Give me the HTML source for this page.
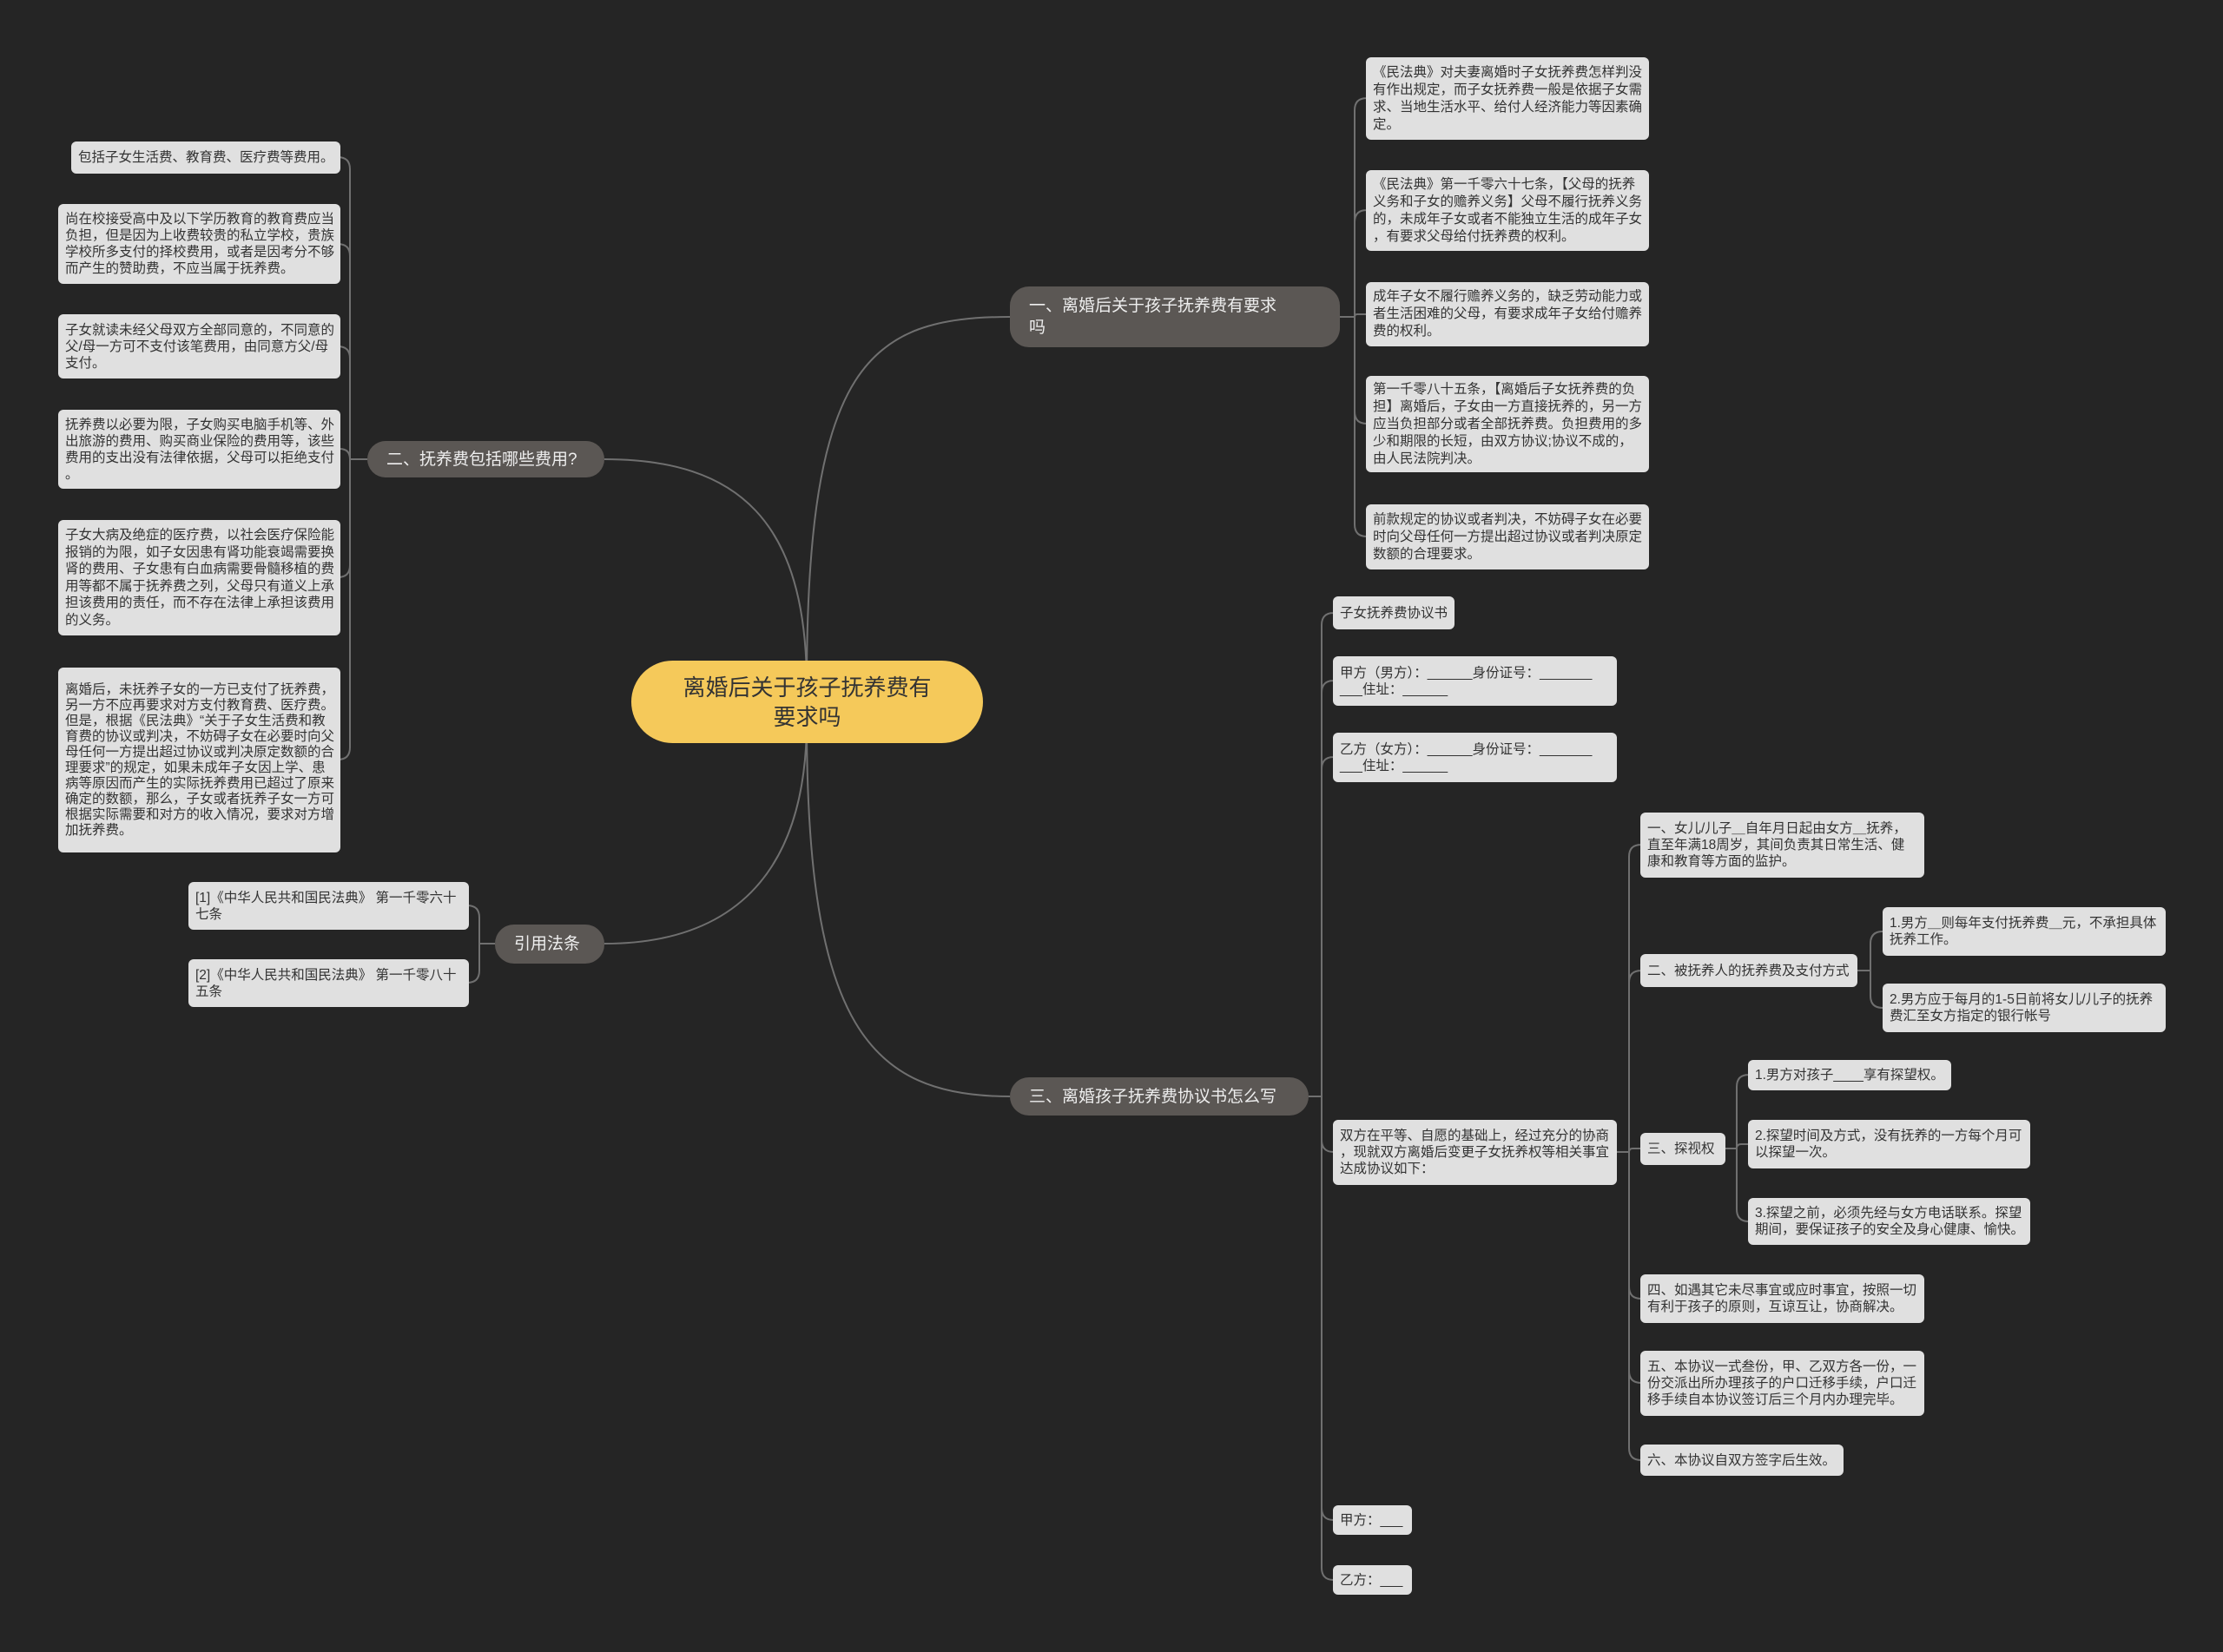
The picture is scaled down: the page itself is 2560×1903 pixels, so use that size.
<!DOCTYPE html>
<html><head><meta charset="utf-8"><style>
html,body{margin:0;padding:0;background:#252525;}
body{width:2560px;height:1903px;position:relative;overflow:hidden;font-family:"Liberation Sans","Noto Sans CJK SC",sans-serif;}
.b{position:absolute;background:#e0e0e0;color:#333;border-radius:6px;font-size:15.5px;line-height:19px;padding:0 8px;box-sizing:border-box;display:flex;align-items:center;white-space:nowrap;}
.n{position:absolute;background:#5b5754;color:#eee;border-radius:22px;font-size:19px;line-height:25px;box-sizing:border-box;display:flex;align-items:center;padding:0 22px;white-space:nowrap;}
.c{position:absolute;left:727px;top:761px;width:405px;height:95px;background:#f5c95a;border-radius:48px;color:#333;font-size:26px;line-height:34px;display:flex;align-items:center;justify-content:center;text-align:center;}
svg{position:absolute;left:0;top:0;}
</style></head><body>
<svg id="s" width="2560" height="1903"></svg>
<div class="c">离婚后关于孩子抚养费有<br>要求吗</div>
<div class="n" style="left:1163px;top:330px;width:380px;height:70px">一、离婚后关于孩子抚养费有要求<br>吗</div>
<div class="n" style="left:423px;top:508px;width:273px;height:42px">二、抚养费包括哪些费用?</div>
<div class="n" style="left:570px;top:1065px;width:126px;height:45px;padding:0 22px">引用法条</div>
<div class="n" style="left:1163px;top:1241px;width:344px;height:44px">三、离婚孩子抚养费协议书怎么写</div>

<div class="b" style="left:1573px;top:66px;width:326px;height:95px;line-height:20px">《民法典》对夫妻离婚时子女抚养费怎样判没<br>有作出规定，而子女抚养费一般是依据子女需<br>求、当地生活水平、给付人经济能力等因素确<br>定。</div>
<div class="b" style="left:1573px;top:196px;width:326px;height:93px;line-height:20px">《民法典》第一千零六十七条，【父母的抚养<br>义务和子女的赡养义务】父母不履行抚养义务<br>的，未成年子女或者不能独立生活的成年子女<br>，有要求父母给付抚养费的权利。</div>
<div class="b" style="left:1573px;top:325px;width:326px;height:74px;line-height:20px">成年子女不履行赡养义务的，缺乏劳动能力或<br>者生活困难的父母，有要求成年子女给付赡养<br>费的权利。</div>
<div class="b" style="left:1573px;top:433px;width:326px;height:111px;line-height:20px">第一千零八十五条，【离婚后子女抚养费的负<br>担】离婚后，子女由一方直接抚养的，另一方<br>应当负担部分或者全部抚养费。负担费用的多<br>少和期限的长短，由双方协议;协议不成的，<br>由人民法院判决。</div>
<div class="b" style="left:1573px;top:581px;width:326px;height:75px;line-height:20px">前款规定的协议或者判决，不妨碍子女在必要<br>时向父母任何一方提出超过协议或者判决原定<br>数额的合理要求。</div>

<div class="b" style="left:82px;top:163px;width:310px;height:37px">包括子女生活费、教育费、医疗费等费用。</div>
<div class="b" style="left:67px;top:235px;width:325px;height:92px;line-height:19px">尚在校接受高中及以下学历教育的教育费应当<br>负担，但是因为上收费较贵的私立学校，贵族<br>学校所多支付的择校费用，或者是因考分不够<br>而产生的赞助费，不应当属于抚养费。</div>
<div class="b" style="left:67px;top:362px;width:325px;height:74px">子女就读未经父母双方全部同意的，不同意的<br>父/母一方可不支付该笔费用，由同意方父/母<br>支付。</div>
<div class="b" style="left:67px;top:472px;width:325px;height:91px">抚养费以必要为限，子女购买电脑手机等、外<br>出旅游的费用、购买商业保险的费用等，该些<br>费用的支出没有法律依据，父母可以拒绝支付<br>。</div>
<div class="b" style="left:67px;top:599px;width:325px;height:133px;line-height:19.5px">子女大病及绝症的医疗费，以社会医疗保险能<br>报销的为限，如子女因患有肾功能衰竭需要换<br>肾的费用、子女患有白血病需要骨髓移植的费<br>用等都不属于抚养费之列，父母只有道义上承<br>担该费用的责任，而不存在法律上承担该费用<br>的义务。</div>
<div class="b" style="left:67px;top:769px;width:325px;height:213px;line-height:18px">离婚后，未抚养子女的一方已支付了抚养费，<br>另一方不应再要求对方支付教育费、医疗费。<br>但是，根据《民法典》“关于子女生活费和教<br>育费的协议或判决，不妨碍子女在必要时向父<br>母任何一方提出超过协议或判决原定数额的合<br>理要求”的规定，如果未成年子女因上学、患<br>病等原因而产生的实际抚养费用已超过了原来<br>确定的数额，那么，子女或者抚养子女一方可<br>根据实际需要和对方的收入情况，要求对方增<br>加抚养费。</div>

<div class="b" style="left:217px;top:1016px;width:323px;height:55px">[1]《中华人民共和国民法典》 第一千零六十<br>七条</div>
<div class="b" style="left:217px;top:1105px;width:323px;height:55px">[2]《中华人民共和国民法典》 第一千零八十<br>五条</div>

<div class="b" style="left:1535px;top:687px;width:140px;height:38px">子女抚养费协议书</div>
<div class="b" style="left:1535px;top:756px;width:327px;height:57px">甲方（男方）：______身份证号：_______<br>___住址：______</div>
<div class="b" style="left:1535px;top:844px;width:327px;height:57px">乙方（女方）：______身份证号：_______<br>___住址：______</div>
<div class="b" style="left:1535px;top:1290px;width:327px;height:75px">双方在平等、自愿的基础上，经过充分的协商<br>，现就双方离婚后变更子女抚养权等相关事宜<br>达成协议如下：</div>
<div class="b" style="left:1535px;top:1734px;width:91px;height:34px">甲方：___</div>
<div class="b" style="left:1535px;top:1803px;width:91px;height:34px">乙方：___</div>

<div class="b" style="left:1889px;top:936px;width:327px;height:75px">一、女儿/儿子＿自年月日起由女方＿抚养，<br>直至年满18周岁，其间负责其日常生活、健<br>康和教育等方面的监护。</div>
<div class="b" style="left:1889px;top:1099px;width:250px;height:38px">二、被抚养人的抚养费及支付方式</div>
<div class="b" style="left:1889px;top:1305px;width:98px;height:37px">三、探视权</div>
<div class="b" style="left:1889px;top:1468px;width:327px;height:56px">四、如遇其它未尽事宜或应时事宜，按照一切<br>有利于孩子的原则，互谅互让，协商解决。</div>
<div class="b" style="left:1889px;top:1556px;width:327px;height:75px">五、本协议一式叁份，甲、乙双方各一份，一<br>份交派出所办理孩子的户口迁移手续，户口迁<br>移手续自本协议签订后三个月内办理完毕。</div>
<div class="b" style="left:1889px;top:1664px;width:234px;height:36px">六、本协议自双方签字后生效。</div>

<div class="b" style="left:2168px;top:1045px;width:326px;height:56px">1.男方＿则每年支付抚养费＿元，不承担具体<br>抚养工作。</div>
<div class="b" style="left:2168px;top:1133px;width:326px;height:56px">2.男方应于每月的1-5日前将女儿/儿子的抚养<br>费汇至女方指定的银行帐号</div>
<div class="b" style="left:2013px;top:1221px;width:234px;height:35px">1.男方对孩子____享有探望权。</div>
<div class="b" style="left:2013px;top:1290px;width:325px;height:56px">2.探望时间及方式，没有抚养的一方每个月可<br>以探望一次。</div>
<div class="b" style="left:2013px;top:1380px;width:325px;height:54px">3.探望之前，必须先经与女方电话联系。探望<br>期间，要保证孩子的安全及身心健康、愉快。</div>

<script>
var s=document.getElementById('s'),d='';
function P(p){d+='<path d="'+p+'" fill="none" stroke="#707070" stroke-width="2"/>';}
// main curves
P('M929,790 C929,420 1000,365 1163,365');
P('M929,830 C929,1180 1000,1263 1163,1263');
P('M929,790 C929,600 850,529 696,529');
P('M929,830 C929,1000 850,1087 696,1087');
function br(px,py,bx,cx,ys){var dir=cx>bx?1:-1;P('M'+px+','+py+' L'+bx+','+py);
ys.forEach(function(y){var r=Math.min(14,Math.abs(y-py));var sg=y>py?1:-1;
if(Math.abs(y-py)<2){P('M'+bx+','+py+' L'+cx+','+y);return;}
P('M'+bx+','+py+' L'+bx+','+(y-sg*r)+' Q'+bx+','+y+' '+(bx+dir*r)+','+y+' L'+cx+','+y);});}
br(1543,365,1560,1573,[113,242,362,488,618]);
br(423,529,403,392,[181,281,399,517,665,875]);
br(570,1087,552,540,[1043,1132]);
br(1507,1263,1522,1535,[706,784,872,1327,1751,1820]);
br(1862,1327,1876,1889,[973,1118,1323,1496,1593,1682]);
br(2139,1118,2154,2168,[1073,1161]);
br(1987,1323,2000,2013,[1238,1318,1407]);
s.innerHTML=d;
</script>
</body></html>
